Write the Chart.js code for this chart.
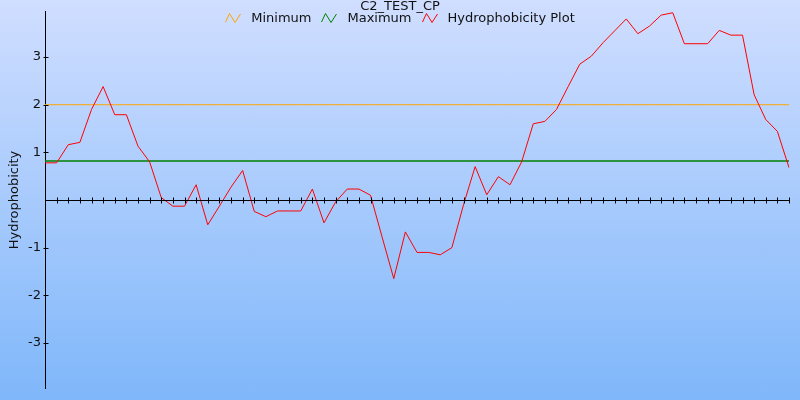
<!DOCTYPE html>
<html>
<head>
<meta charset="utf-8">
<title>C2_TEST_CP</title>
<script src="https://cdn.jsdelivr.net/npm/chart.js@4.4.1/dist/chart.umd.min.js"></script>
<style>
  html, body { margin: 0; padding: 0; }
  body { width: 800px; height: 400px; overflow: hidden; font-family: "DejaVu Sans", sans-serif; color: #111; }
  #wrap {
    position: relative; width: 800px; height: 400px;
    background: linear-gradient(to bottom, #d0deff 0%, #7fb7fa 100%);
  }
  #chart { position: absolute; left: 0; top: 0; }
  #title {
    position: absolute; left: 0; top: -2px; width: 800px;
    text-align: center; font-size: 13px; line-height: 15px;
  }
  #legend {
    position: absolute; left: 0; top: 10px; width: 800px;
    display: flex; justify-content: center; align-items: center;
    font-size: 13px; line-height: 15px;
  }
  .item { display: flex; align-items: center; margin: 0 5px; }
  .item svg { margin-right: 10px; }
</style>
</head>
<body>
<div id="wrap">
  <canvas id="chart" width="800" height="400"></canvas>
  <div id="title"></div>
  <div id="legend"></div>
</div>
<script>
  const chartTitle = 'C2_TEST_CP';
  const yAxisTitle = 'Hydrophobicity';

  // residue window positions along the sequence
  const positions = [
    1, 2, 3, 4, 5, 6, 7, 8, 9, 10, 11, 12, 13, 14, 15, 16, 17, 18, 19, 20,
    21, 22, 23, 24, 25, 26, 27, 28, 29, 30, 31, 32, 33, 34, 35, 36, 37, 38, 39, 40,
    41, 42, 43, 44, 45, 46, 47, 48, 49, 50, 51, 52, 53, 54, 55, 56, 57, 58, 59, 60,
    61, 62, 63, 64, 65
  ];

  const hydrophobicity = [
    0.78, 0.78, 1.16, 1.21, 1.90, 2.38, 1.79, 1.79, 1.13, 0.80,
    0.05, -0.13, -0.13, 0.32, -0.52, -0.13, 0.27, 0.62, -0.24, -0.35,
    -0.23, -0.23, -0.23, 0.23, -0.48, -0.04, 0.23, 0.23, 0.10, -0.78,
    -1.65, -0.67, -1.10, -1.10, -1.15, -1.00, -0.10, 0.70, 0.11, 0.49,
    0.32, 0.80, 1.60, 1.65, 1.90, 2.38, 2.85, 3.02, 3.30, 3.55,
    3.80, 3.49, 3.65, 3.88, 3.93, 3.28, 3.28, 3.28, 3.56, 3.46,
    3.46, 2.21, 1.69, 1.44, 0.68
  ];

  const minimumValue = 2.0;
  const maximumValue = 0.82;

  const yTicks = [-3, -2, -1, 0, 1, 2, 3];
  const yRange = [-3.95, 3.95];

  const series = [
    { label: 'Minimum', color: 'orange', width: 1, data: positions.map(() => minimumValue), order: 2 },
    { label: 'Maximum', color: 'green', width: 1.5, data: positions.map(() => maximumValue), order: 1 },
    { label: 'Hydrophobicity Plot', color: 'red', width: 1, data: hydrophobicity, order: 0 }
  ];

  // titre + légende en HTML, posés par-dessus le canvas
  function renderHeader() {
    document.getElementById('title').textContent = chartTitle;
    const legend = document.getElementById('legend');
    series.forEach(s => {
      const item = document.createElement('div');
      item.className = 'item';
      item.innerHTML =
        `<svg width="16" height="12" viewBox="0 0 16 12">
           <polyline points="0.5,10 4.5,1.5 10,10.5 15.5,2" fill="none" stroke="${s.color}" stroke-width="1"/>
         </svg><span>${s.label}</span>`;
      legend.appendChild(item);
    });
  }

  // axe des x sur y=0 et graduations qui traversent les axes
  const crossAxes = {
    id: 'crossAxes',
    afterDatasetsDraw(chart) {
      const { ctx, chartArea, scales: { x, y } } = chart;
      const y0 = Math.round(y.getPixelForValue(0)) + 0.5;
      ctx.save();
      ctx.strokeStyle = '#000';
      ctx.lineWidth = 1;
      ctx.beginPath();
      ctx.moveTo(chartArea.left, y0);
      ctx.lineTo(chartArea.right, y0);
      positions.forEach((p, i) => {
        if (i === 0) return;
        const px = Math.round(x.getPixelForValue(i)) + 0.5;
        ctx.moveTo(px, y0 - 3);
        ctx.lineTo(px, y0 + 3);
      });
      const lx = Math.round(chartArea.left) + 0.5;
      yTicks.forEach(t => {
        if (t === 0) return;
        const py = Math.round(y.getPixelForValue(t)) + 0.5;
        ctx.moveTo(lx - 2, py);
        ctx.lineTo(lx + 3, py);
      });
      ctx.stroke();
      ctx.restore();
    }
  };

  renderHeader();

  new Chart(document.getElementById('chart'), {
    type: 'line',
    data: {
      labels: positions,
      datasets: series.map(s => ({
        label: s.label,
        data: s.data,
        borderColor: s.color,
        borderWidth: s.width,
        pointRadius: 0,
        tension: 0,
        fill: false,
        order: s.order
      }))
    },
    options: {
      responsive: false,
      animation: false,
      events: [],
      layout: { padding: { left: 0, top: 10, right: 11, bottom: 11 } },
      plugins: {
        legend: { display: false },
        title: { display: false },
        tooltip: { enabled: false }
      },
      scales: {
        x: {
          type: 'category',
          display: false,
          offset: false
        },
        y: {
          min: yRange[0],
          max: yRange[1],
          bounds: 'data',
          afterBuildTicks: scale => { scale.ticks = yTicks.map(v => ({ value: v })); },
          afterFit: scale => { scale.width = 45; },
          border: { display: true, color: '#000', width: 1 },
          grid: { drawOnChartArea: false, drawTicks: false },
          ticks: {
            padding: 4,
            color: '#111',
            font: { family: 'DejaVu Sans', size: 13 },
            callback: v => (v === 0 ? '' : String(v))
          },
          title: {
            display: true,
            text: yAxisTitle,
            color: '#111',
            font: { family: 'DejaVu Sans', size: 13 },
            padding: { top: 7, bottom: 0 }
          }
        }
      }
    },
    plugins: [crossAxes]
  });
</script>
</body>
</html>
